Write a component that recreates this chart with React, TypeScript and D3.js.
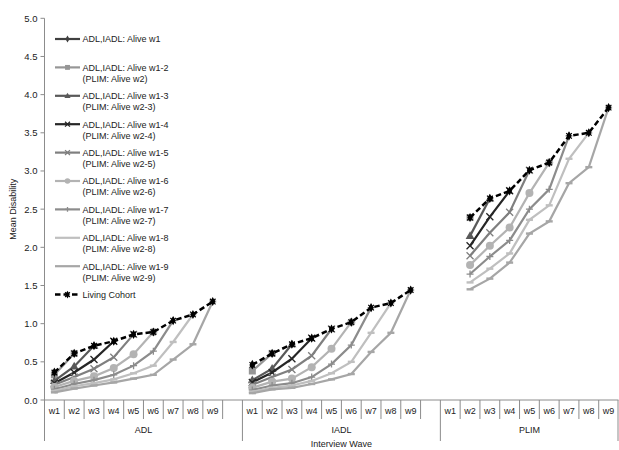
import { useEffect, useRef } from "react";
import * as d3 from "d3";

const groups = ["ADL", "IADL", "PLIM"];
const waves = ["w1", "w2", "w3", "w4", "w5", "w6", "w7", "w8", "w9"];
const yTicks = [0, 0.5, 1, 1.5, 2, 2.5, 3, 3.5, 4, 4.5, 5];

const seriesLabels = [
  ["ADL,IADL: Alive w1"],
  ["ADL,IADL: Alive w1-2", "(PLIM: Alive w2)"],
  ["ADL,IADL: Alive w1-3", "(PLIM: Alive w2-3)"],
  ["ADL,IADL: Alive w1-4", "(PLIM: Alive w2-4)"],
  ["ADL,IADL: Alive w1-5", "(PLIM: Alive w2-5)"],
  ["ADL,IADL: Alive w1-6", "(PLIM: Alive w2-6)"],
  ["ADL,IADL: Alive w1-7", "(PLIM: Alive w2-7)"],
  ["ADL,IADL: Alive w1-8", "(PLIM: Alive w2-8)"],
  ["ADL,IADL: Alive w1-9", "(PLIM: Alive w2-9)"],
];
const livingLabel = "Living Cohort";

type V = number | null;

const adlSeries: V[][] = [
  [0.36],
  [0.33, 0.61],
  [0.25, 0.44, 0.71],
  [0.22, 0.36, 0.53, 0.77],
  [0.2, 0.3, 0.41, 0.56, 0.86],
  [0.17, 0.25, 0.31, 0.42, 0.6, 0.89],
  [0.14, 0.21, 0.26, 0.33, 0.45, 0.64, 1.04],
  [0.12, 0.18, 0.22, 0.27, 0.35, 0.45, 0.76, 1.12],
  [0.1, 0.15, 0.19, 0.23, 0.28, 0.33, 0.53, 0.73, 1.29],
];
const adlLiving: V[] = [0.36, 0.61, 0.71, 0.77, 0.86, 0.89, 1.04, 1.12, 1.29];

const iadlSeries: V[][] = [
  [0.46],
  [0.38, 0.61],
  [0.26, 0.41, 0.73],
  [0.23, 0.36, 0.54, 0.81],
  [0.2, 0.3, 0.4, 0.58, 0.93],
  [0.16, 0.24, 0.28, 0.43, 0.67, 1.02],
  [0.13, 0.19, 0.22, 0.3, 0.47, 0.72, 1.21],
  [0.11, 0.16, 0.19, 0.25, 0.35, 0.5, 0.88, 1.27],
  [0.09, 0.14, 0.16, 0.21, 0.27, 0.34, 0.63, 0.88, 1.44],
];
const iadlLiving: V[] = [0.46, 0.61, 0.73, 0.81, 0.93, 1.02, 1.21, 1.27, 1.44];

const plimSeries: V[][] = [
  [],
  [null, 2.39],
  [null, 2.15, 2.64],
  [null, 2.02, 2.4, 2.74],
  [null, 1.89, 2.19, 2.46, 3.01],
  [null, 1.77, 2.02, 2.26, 2.71, 3.11],
  [null, 1.65, 1.88, 2.09, 2.5, 2.76, 3.46],
  [null, 1.54, 1.72, 1.92, 2.36, 2.55, 3.16, 3.5],
  [null, 1.45, 1.59, 1.8, 2.18, 2.34, 2.84, 3.05, 3.83],
];
const plimLiving: V[] = [null, 2.39, 2.64, 2.74, 3.01, 3.11, 3.46, 3.5, 3.83];

const colors = ["#404040", "#969696", "#595959", "#262626", "#7f7f7f", "#b3b3b3", "#8c8c8c", "#bfbfbf", "#a6a6a6"];
const markers = ["diamond", "square", "triangle", "x", "x", "circle", "plus", "dash", "dash"];

const FONT = "'Liberation Sans', Arial, sans-serif";

function drawMarker(g: d3.Selection<SVGGElement, unknown, null, undefined>, type: string, x: number, y: number, color: string, scale = 1) {
  const s = scale;
  if (type === "diamond") {
    g.append("path").attr("d", d3.symbol(d3.symbolDiamond, 30 * s * s)()).attr("transform", `translate(${x},${y})`).attr("fill", color);
  } else if (type === "square") {
    g.append("rect").attr("x", x - 3.5 * s).attr("y", y - 3.5 * s).attr("width", 7 * s).attr("height", 7 * s).attr("fill", color);
  } else if (type === "triangle") {
    g.append("path").attr("d", d3.symbol(d3.symbolTriangle, 34 * s * s)()).attr("transform", `translate(${x},${y + 0.5})`).attr("fill", color);
  } else if (type === "x") {
    const r = 3.5 * s;
    g.append("path").attr("d", `M${x - r},${y - r}L${x + r},${y + r}M${x - r},${y + r}L${x + r},${y - r}`).attr("stroke", color).attr("stroke-width", 1.3);
  } else if (type === "circle") {
    g.append("circle").attr("cx", x).attr("cy", y).attr("r", 4 * s).attr("fill", color);
  } else if (type === "plus") {
    const r = 3.5 * s;
    g.append("path").attr("d", `M${x - r},${y}L${x + r},${y}M${x},${y - r}L${x},${y + r}`).attr("stroke", color).attr("stroke-width", 1.3);
  } else if (type === "dash") {
    g.append("rect").attr("x", x - 3.5 * s).attr("y", y - 1.2).attr("width", 7 * s).attr("height", 2.4).attr("fill", color);
  } else if (type === "living") {
    g.append("path").attr("d", d3.symbol(d3.symbolDiamond, 24 * s * s)()).attr("transform", `translate(${x},${y})`).attr("fill", "#000");
    const r = 2.8 * s;
    g.append("path").attr("d", `M${x - r},${y - r}L${x + r},${y + r}M${x - r},${y + r}L${x + r},${y - r}`).attr("stroke", "#000").attr("stroke-width", 1.2);
  }
}

export default function App() {
  const ref = useRef<SVGSVGElement>(null);

  useEffect(() => {
    const width = 619;
    const height = 450;
    const svg = d3.select(ref.current).attr("width", width).attr("height", height);
    svg.selectAll("*").remove();

    const x0 = 44.5;
    const x1 = 618.5;
    const slots: string[] = [];
    groups.forEach((g, gi) => {
      waves.forEach((w) => slots.push(`${g}|${w}`));
      if (gi < groups.length - 1) slots.push(`${g}|gap`);
    });
    const x = d3.scaleBand<string>().domain(slots).range([x0, x1]).padding(0);
    const y = d3.scaleLinear().domain([0, 5]).range([400, 18.3]);
    const axisColor = "#8c8c8c";
    const textColor = "#222";

    // y axis
    svg.append("line").attr("x1", x0).attr("x2", x0).attr("y1", y(5)).attr("y2", y(0)).attr("stroke", axisColor);
    yTicks.forEach((t) => {
      svg.append("line").attr("x1", x0 - 4).attr("x2", x0).attr("y1", y(t)).attr("y2", y(t)).attr("stroke", axisColor);
      svg.append("text").attr("x", 37.5).attr("y", y(t) + 3.5).attr("text-anchor", "end")
        .style("font-family", FONT).style("font-size", "9.5px").attr("fill", textColor).text(t.toFixed(1));
    });
    svg.append("text").attr("transform", `translate(16,${(y(5) + y(0)) / 2}) rotate(-90)`)
      .attr("text-anchor", "middle").style("font-family", FONT).style("font-size", "9px").attr("fill", textColor)
      .text("Mean Disability");

    // x axis, multi-level
    svg.append("line").attr("x1", x0).attr("x2", x1).attr("y1", y(0)).attr("y2", y(0)).attr("stroke", axisColor);
    slots.forEach((s, i) => {
      const bx = x(s)!;
      const isGroupStart = i === 0 || s.split("|")[1] === "w1";
      svg.append("line").attr("x1", bx).attr("x2", bx).attr("y1", y(0)).attr("y2", isGroupStart ? 441 : 419).attr("stroke", axisColor);
      const w = s.split("|")[1];
      if (w !== "gap") {
        svg.append("text").attr("x", bx + x.bandwidth() / 2).attr("y", 414).attr("text-anchor", "middle")
          .style("font-family", FONT).style("font-size", "9px").attr("fill", textColor).text(w);
      }
    });
    svg.append("line").attr("x1", x1 - 0.5).attr("x2", x1 - 0.5).attr("y1", y(0)).attr("y2", 441).attr("stroke", axisColor);
    groups.forEach((g) => {
      const a = x(`${g}|w1`)!;
      const b = x(`${g}|w9`)! + x.bandwidth();
      const mid = g === "PLIM" ? (a + b) / 2 : (a + b + x.bandwidth()) / 2;
      svg.append("text").attr("x", mid).attr("y", 433).attr("text-anchor", "middle")
        .style("font-family", FONT).style("font-size", "9px").attr("fill", textColor).text(g);
    });
    svg.append("text").attr("x", (x(`IADL|w1`)! + x(`IADL|gap`)! + x.bandwidth()) / 2).attr("y", 447).attr("text-anchor", "middle")
      .style("font-family", FONT).style("font-size", "9px").attr("fill", textColor).text("Interview Wave");

    // series
    const plot = svg.append("g");
    const line = d3.line<{ k: string; v: number }>()
      .x((d) => x(d.k)! + x.bandwidth() / 2)
      .y((d) => y(d.v));
    const groupData = [
      { g: "ADL", series: adlSeries, living: adlLiving },
      { g: "IADL", series: iadlSeries, living: iadlLiving },
      { g: "PLIM", series: plimSeries, living: plimLiving },
    ];
    const pts = (g: string, vals: V[]) =>
      vals.map((v, i) => ({ k: `${g}|${waves[i]}`, v })).filter((d) => d.v !== null) as { k: string; v: number }[];

    for (let si = 0; si < seriesLabels.length; si++) {
      groupData.forEach((gd) => {
        const p = pts(gd.g, gd.series[si]);
        if (!p.length) return;
        plot.append("path").attr("d", line(p)).attr("fill", "none").attr("stroke", colors[si]).attr("stroke-width", 2.2);
        const mg = plot.append("g");
        p.forEach((d) => drawMarker(mg, markers[si], x(d.k)! + x.bandwidth() / 2, y(d.v), colors[si]));
      });
    }
    groupData.forEach((gd) => {
      const p = pts(gd.g, gd.living);
      plot.append("path").attr("d", line(p)).attr("fill", "none").attr("stroke", "#000")
        .attr("stroke-width", 2.5).attr("stroke-dasharray", "5.5,3");
      const mg = plot.append("g");
      p.forEach((d) => drawMarker(mg, "living", x(d.k)! + x.bandwidth() / 2, y(d.v), "#000"));
    });

    // legend
    const legend = svg.append("g");
    const ly = (i: number) => 39 + i * 28.4;
    seriesLabels.forEach((lab, i) => {
      const cy = ly(i);
      legend.append("line").attr("x1", 55).attr("x2", 80).attr("y1", cy).attr("y2", cy).attr("stroke", colors[i]).attr("stroke-width", 2.2);
      const mg = legend.append("g");
      drawMarker(mg, markers[i] === "dash" ? "none" : markers[i], 67.5, cy, colors[i], 0.7);
      lab.forEach((t, j) => {
        legend.append("text").attr("x", 82.5).attr("y", cy + 3.3 + j * 11).style("font-family", FONT)
          .style("font-size", "9px").attr("fill", textColor).text(t);
      });
    });
    const lcy = ly(9);
    legend.append("line").attr("x1", 55).attr("x2", 80).attr("y1", lcy).attr("y2", lcy).attr("stroke", "#000")
      .attr("stroke-width", 2.5).attr("stroke-dasharray", "5.5,3");
    drawMarker(legend.append("g"), "living", 67.5, lcy, "#000", 0.85);
    legend.append("text").attr("x", 82.5).attr("y", lcy + 3.3).style("font-family", FONT)
      .style("font-size", "9px").attr("fill", textColor).text(livingLabel);
  }, []);

  return <svg ref={ref} style={{ position: "absolute", left: 0, top: 0, background: "#fff" }}></svg>;
}
